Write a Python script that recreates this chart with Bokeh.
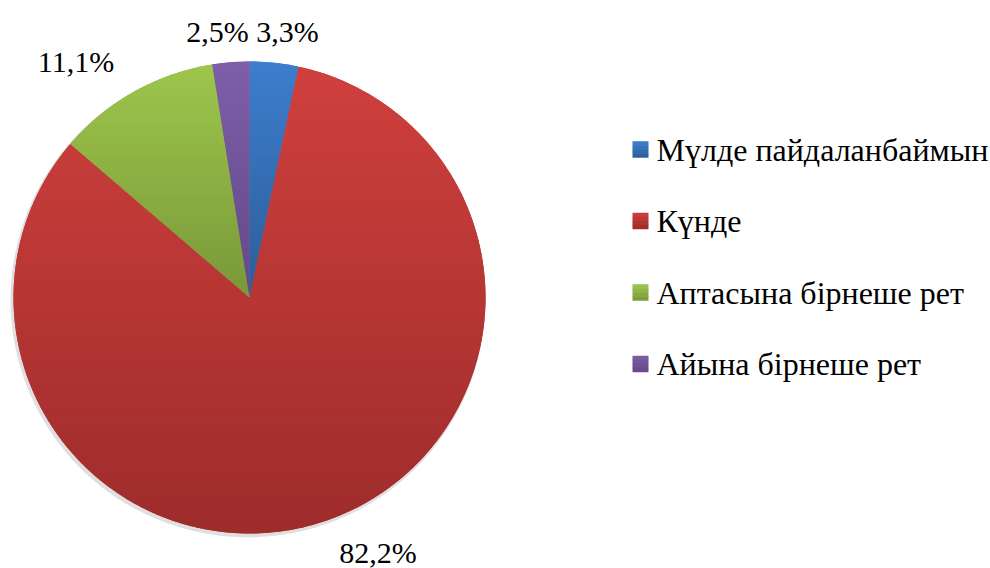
import math
from bokeh.plotting import figure
from bokeh.models import Range1d
from bokeh.core.properties import value
from bokeh.embed import file_html
from bokeh.resources import INLINE

# ---- data ----
categories = ["Мүлде пайдаланбаймын", "Күнде", "Аптасына бірнеше рет", "Айына бірнеше рет"]
values = [3.3, 82.2, 11.1, 2.5]

# ---- style ----
top_colors = [(61, 126, 206), (207, 64, 61), (157, 198, 76), (126, 94, 170)]
bottom_colors = [(44, 93, 152), (157, 44, 43), (121, 152, 57), (98, 73, 133)]
mid_colors = ["#3a6fb5", "#b73a37", "#8cb044", "#715498"]
label_offsets = [(13.4, -31.3), (52.8, 31.5), (-58.2, -30.1), (-13.3, -30.7)]
FONT = "'Liberation Serif', 'Times New Roman', Times, serif"

W, H = 990, 568
p = figure(width=W, height=H, output_backend="svg", toolbar_location=None,
           x_range=Range1d(0, W), y_range=Range1d(0, H), min_border=0)
p.axis.visible = False
p.grid.visible = False
p.outline_line_color = None

cx, cy, R = 249.0, 271.0, 236.0

total = sum(values)
starts, ends = [], []
cum = 0.0
for v in values:
    a0 = math.pi / 2 - 2 * math.pi * cum / total
    cum += v
    a1 = math.pi / 2 - 2 * math.pi * cum / total
    starts.append(a0)
    ends.append(a1)

# soft shadow
p.circle(x=[cx - 1.5], y=[cy - 2.5], radius=R + 1.5, fill_color="#808080",
         fill_alpha=0.25, line_color=None)

for i in range(len(values)):
    p.wedge(x=cx, y=cy, radius=R, start_angle=starts[i], end_angle=ends[i],
            direction="clock", fill_color=mid_colors[i], line_color=None)


def clip(poly, lo, hi):
    def clip_edge(pts, keep, inter):
        out = []
        n = len(pts)
        for k in range(n):
            a = pts[k]
            b = pts[(k + 1) % n]
            ka, kb = keep(a), keep(b)
            if ka:
                out.append(a)
                if not kb:
                    out.append(inter(a, b))
            elif kb:
                out.append(inter(a, b))
        return out

    def inter_y(y0):
        def f(a, b):
            t = (y0 - a[1]) / (b[1] - a[1])
            return (a[0] + t * (b[0] - a[0]), y0)
        return f

    pts = clip_edge(poly, lambda q: q[1] >= lo, inter_y(lo))
    if not pts:
        return []
    pts = clip_edge(pts, lambda q: q[1] <= hi, inter_y(hi))
    return pts


def grad(i, t):
    c = tuple(int(round(top_colors[i][j] + (bottom_colors[i][j] - top_colors[i][j]) * t)) for j in range(3))
    return "#%02x%02x%02x" % c


# gradient fill drawn as horizontal bands of each slice
NB = 70
for i in range(len(values)):
    a0, a1 = starts[i], ends[i]
    n = max(4, int(abs(a0 - a1) / (2 * math.pi) * 360))
    poly = [(cx, cy)] + [(cx + R * math.cos(a0 + (a1 - a0) * k / n),
                          cy + R * math.sin(a0 + (a1 - a0) * k / n)) for k in range(n + 1)]
    ys = [q[1] for q in poly]
    ymin, ymax = min(ys), max(ys)
    xs_l, ys_l, cols = [], [], []
    for b in range(NB):
        hi = ymax - (ymax - ymin) * b / NB
        lo = ymax - (ymax - ymin) * (b + 1) / NB
        part = clip(poly, lo - 0.6, hi)
        if len(part) < 3:
            continue
        xs_l.append([q[0] for q in part])
        ys_l.append([q[1] for q in part])
        cols.append(grad(i, (b + 0.5) / NB))
    p.patches(xs=xs_l, ys=ys_l, fill_color=cols, line_color=None)

# data labels
for i, v in enumerate(values):
    m = (starts[i] + ends[i]) / 2
    lx = cx + R * math.cos(m)
    ly = cy + R * math.sin(m)
    txt = f"{v:.1f}%".replace(".", ",")
    p.text(x=[lx], y=[ly], text=[txt], x_offset=label_offsets[i][0],
           y_offset=label_offsets[i][1], text_align="center",
           text_baseline="alphabetic", text_font_size="30px", text_color="#000000",
           text_font=value(FONT))

# legend (drawn manually so that the serif font is honoured)
leg_x, leg_top, pitch, sq = 640.0, 419.0, 71.5, 16
for i, cat in enumerate(categories):
    yc = leg_top - i * pitch
    for k in range(4):
        p.rect(x=[leg_x], y=[yc + sq / 2 - (k + 0.5) * sq / 4], width=sq, height=sq / 4 + 0.5,
               width_units="screen", height_units="screen",
               fill_color=grad(i, (k + 0.5) / 4), line_color=None)
    p.text(x=[leg_x + sq / 2 + 8], y=[yc], text=[cat], text_align="left",
           text_baseline="middle", text_font_size="32px", text_color="#000000",
           text_font=value(FONT))

open("out.html", "w").write(file_html(p, INLINE))
